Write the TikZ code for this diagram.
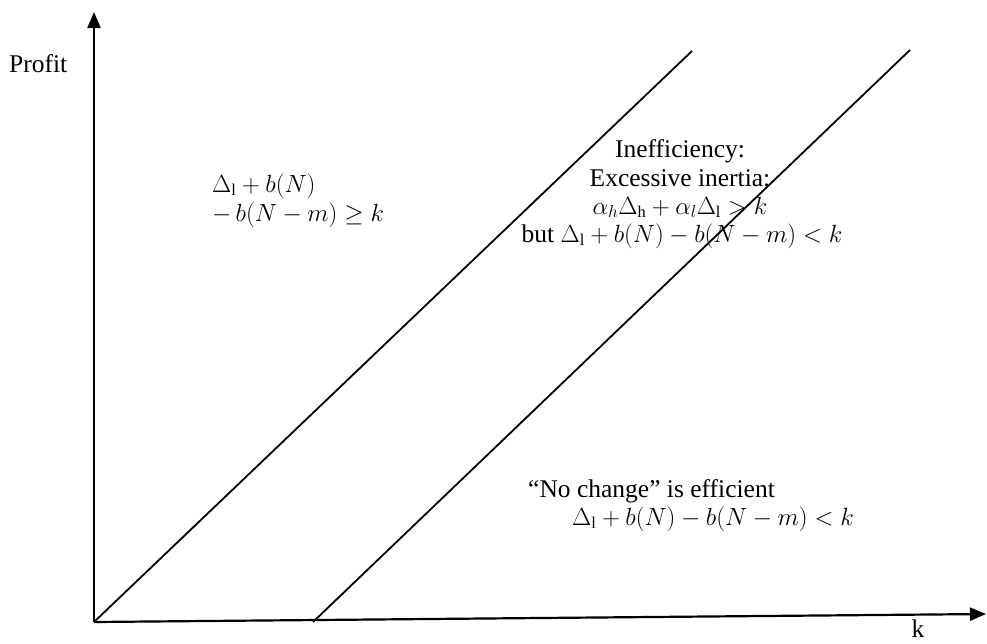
\documentclass[tikz,border=0pt]{standalone}
\usepackage{fontspec}
\setmainfont{Liberation Serif}
\usetikzlibrary{arrows.meta}
\newcommand{\mth}[1]{{\fontsize{23.5}{28}\selectfont$#1$}}
\begin{document}
\begin{tikzpicture}[x=1pt,y=-1pt,
  txt/.style={inner sep=0pt,font=\fontsize{25.5}{30}\selectfont},
  axis/.style={line width=2.2pt,-{Triangle[length=16pt,width=13pt]}},
  bound/.style={line width=1.8pt}]
\useasboundingbox (0,0) rectangle (987,643);
\coordinate (O) at (94,622);
\coordinate (Ytip) at (94,12);
\coordinate (Xtip) at (986,614);
\coordinate (L1b) at (94,622);
\coordinate (L1t) at (692,51);
\coordinate (L2b) at (313,622);
\coordinate (L2t) at (910,50);
\draw[axis] (O) -- (Ytip);
\draw[axis] (O) -- (Xtip);
\draw[bound] (L1b) -- (L1t);
\draw[bound] (L2b) -- (L2t);
\node[txt,anchor=base west] (profit) at (9,72) {Profit};
\node[txt,anchor=base] (k) at (918,637) {k};
\node[txt,anchor=base west] (a1) at (212,192) {\mth{\Delta_{\mathrm{l}}+b(N)}};
\node[txt,anchor=base west] (a2) at (212,221) {\mth{-\,b(N-m)\geq k}};
\node[txt,anchor=base] (b1) at (680,157) {Inefficiency:};
\node[txt,anchor=base] (b2) at (680,186) {Excessive inertia:};
\node[txt,anchor=base] (b3) at (680,214) {\mth{\alpha_h\Delta_{\mathrm{h}}+\alpha_l\Delta_{\mathrm{l}}>k}};
\node[txt,anchor=base] (b4) at (682,242) {but \mth{\Delta_{\mathrm{l}}+b(N)-b(N-m)<k}};
\node[txt,anchor=base west] (c1) at (528,497) {``No change'' is efficient};
\node[txt,anchor=base west] (c2) at (572,525) {\mth{\Delta_{\mathrm{l}}+b(N)-b(N-m)<k}};
\end{tikzpicture}
\end{document}
